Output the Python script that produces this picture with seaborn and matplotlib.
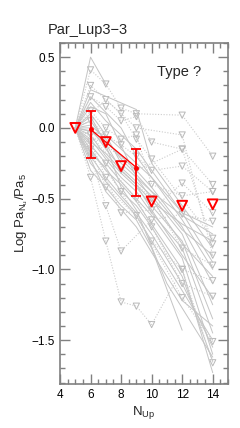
import numpy as np
import pandas as pd
import matplotlib
matplotlib.use("Agg")
import matplotlib.pyplot as plt
from matplotlib.ticker import MultipleLocator
import seaborn as sns

# ---- data ----
# gray measured ratios (solid lines), one list of x and y per source
SOLID = {
    "s01": ([5, 6, 7], [0, 0.50, 0.31]),
    "s02": ([5, 6, 9, 10, 12, 14], [0, 0.27, 0.13, -0.25, -0.55, -0.85]),
    "s03": ([5, 6, 7, 8, 9, 10, 12, 14], [0, 0.18, 0.05, -0.05, -0.15, -0.30, -0.60, -0.95]),
    "s04": ([5, 6, 7, 8, 9, 10, 12, 14], [0, 0.10, -0.05, -0.15, -0.25, -0.35, -0.65, -1.00]),
    "s05": ([5, 6, 7, 8, 9, 10, 12, 14], [0, 0.05, -0.10, -0.20, -0.30, -0.42, -0.70, -1.10]),
    "s06": ([5, 6, 7, 8, 9, 10, 12, 14], [0, 0.00, -0.15, -0.28, -0.38, -0.48, -0.75, -1.25]),
    "s07": ([5, 6, 7, 8, 9, 10, 12, 14], [0, -0.05, -0.20, -0.32, -0.42, -0.55, -0.80, -1.35]),
    "s08": ([5, 6, 7, 8, 9, 10, 12, 14], [0, -0.08, -0.22, -0.35, -0.45, -0.60, -0.85, -1.45]),
    "s09": ([5, 6, 7, 8, 9, 10, 12, 14], [0, -0.12, -0.25, -0.38, -0.50, -0.62, -0.92, -1.60]),
    "s10": ([5, 6, 7, 8, 9, 10, 12, 14], [0, -0.15, -0.30, -0.40, -0.52, -0.68, -1.00, -1.73]),
    "s11": ([5, 6, 7, 8, 9, 10, 12, 14], [0, -0.18, -0.28, -0.45, -0.55, -0.70, -1.05, -1.65]),
    "s12": ([5, 6, 7, 8, 9, 10, 12, 14], [0, -0.20, -0.35, -0.48, -0.60, -0.75, -1.10, -1.55]),
    "s13": ([5, 6, 7, 8, 9, 10, 12, 14], [0, -0.25, -0.38, -0.50, -0.62, -0.80, -1.15, -1.50]),
    "s14": ([5, 6, 7, 8, 9, 10, 12, 14], [0, -0.10, -0.18, -0.30, -0.40, -0.52, -0.68, -0.80]),
    "s15": ([5, 6, 7, 8, 9, 10, 12, 14], [0, 0.02, -0.08, -0.22, -0.33, -0.45, -0.62, -0.75]),
    "s16": ([5, 6, 7, 8, 9, 10, 12], [0, -0.30, -0.42, -0.55, -0.65, -0.85, -1.43]),
    "s17": ([5, 6, 8, 9, 10, 12, 14], [0, 0.22, 0.00, -0.20, -0.35, -0.60, -0.70]),
    "s18": ([5, 6, 7, 9, 10, 12, 14], [0, 0.15, 0.10, -0.35, -0.50, -0.82, -1.05]),
    "s19": ([5, 6, 7, 8, 9, 11, 14], [0, -0.02, -0.12, -0.42, -0.58, -1.10, -1.62]),
    "s20": ([5, 6, 8, 9, 10, 12, 14], [0, 0.08, -0.30, -0.40, -0.58, -0.90, -1.20]),
    "s21": ([5, 6, 7, 9, 10, 12, 14], [0, -0.22, -0.45, -0.70, -0.88, -1.22, -1.40]),
    "s22": ([5, 7, 8, 10, 12, 14], [0, -0.05, -0.25, -0.45, -0.72, -0.90]),
}

# gray upper limits (dotted lines with open triangles)
LIMITS = {
    "u01": ([5, 6, 7, 8, 9, 12, 14], [0, 0.41, 0.31, 0.14, 0.10, 0.09, -0.20]),
    "u02": ([5, 6, 7, 8, 9, 10, 12, 14], [0, 0.22, 0.15, 0.05, 0.08, -0.10, -0.15, -0.40]),
    "u03": ([5, 6, 7, 8, 9, 10, 12, 14], [0, 0.05, -0.05, -0.12, -0.20, -0.30, -0.27, -0.45]),
    "u04": ([5, 6, 7, 8, 10, 12, 14], [0, -0.10, -0.35, -0.60, -0.58, -0.39, -0.60]),
    "u05": ([5, 6, 7, 8, 9, 10, 12, 14], [0, -0.35, -0.80, -1.23, -1.26, -1.39, -1.00, -1.08]),
    "u06": ([5, 6, 7, 8, 10, 12, 14], [0, -0.20, -0.55, -0.87, -0.65, -0.61, -0.66]),
    "u07": ([5, 6, 7, 8, 9, 10, 12, 14], [0, 0.12, 0.00, -0.08, -0.05, -0.40, -0.48, -0.45]),
    "u08": ([5, 6, 8, 10, 12, 14], [0, -0.05, -0.30, -0.50, -0.85, -0.97]),
    "u09": ([5, 7, 9, 10, 12, 14], [0, -0.25, -0.50, -0.70, -1.10, -1.19]),
    "u10": ([5, 6, 7, 9, 12, 14], [0, -0.15, -0.42, -0.62, -1.20, -1.51]),
    "u11": ([5, 8, 10, 12, 14], [0, -0.45, -0.80, -1.00, -1.66]),
    "u12": ([5, 7, 9, 12, 14], [0, -0.12, -0.30, -0.15, -0.82]),
    "u13": ([5, 6, 9, 12, 14], [0, 0.30, 0.00, -0.05, -0.90]),
    "u14": ([5, 7, 8, 9, 10, 14], [0, 0.20, 0.10, -0.08, -0.22, -0.78]),
}

# Par_Lup3-3 itself
red_det_x = [6, 9]
red_det_y = [-0.01, -0.28]
red_det_lo = [0.20, 0.20]
red_det_hi = [0.13, 0.13]
red_line_x = [6, 7, 9]
red_line_y = [-0.01, -0.10, -0.28]
red_lim_x = [5, 7, 8, 10, 12, 14]
red_lim_y = [0.0, -0.10, -0.27, -0.52, -0.55, -0.54]


def to_long(series):
    rows = []
    for name, (xs, ys) in series.items():
        for x, y in zip(xs, ys):
            rows.append({"src": name, "nup": x, "ratio": y})
    return pd.DataFrame(rows)


def main():
    sns.set_style("ticks")
    plt.rcParams["font.family"] = ["Liberation Sans", "DejaVu Sans"]
    plt.rcParams["mathtext.fontset"] = "custom"
    plt.rcParams["mathtext.rm"] = "Liberation Sans"
    plt.rcParams["mathtext.it"] = "Liberation Sans"

    df_solid = to_long(SOLID)
    df_lim = to_long(LIMITS)
    df_lim_pts = df_lim[df_lim["nup"] > 5]

    fig = plt.figure(figsize=(2.4, 4.28), dpi=100)
    ax = fig.add_axes([0.25, 0.1028, 0.70, 0.7967])

    gray = "#c4c4c4"
    sns.lineplot(data=df_solid, x="nup", y="ratio", units="src", estimator=None,
                 color=gray, lw=0.7, ax=ax, sort=False)
    sns.lineplot(data=df_lim, x="nup", y="ratio", units="src", estimator=None,
                 color="#cccccc", lw=0.8, ls=(0, (1, 1.5)), ax=ax, sort=False)
    sns.scatterplot(data=df_lim_pts, x="nup", y="ratio", marker="v", s=20,
                    facecolor="none", edgecolor="#b8b8b8", linewidth=0.7, ax=ax)

    # red source
    sns.lineplot(x=red_line_x, y=red_line_y, color="red", lw=0.9, ax=ax, sort=False)
    ax.errorbar(red_det_x, red_det_y, yerr=[red_det_lo, red_det_hi], fmt="o",
                ms=2.5, color="red", ecolor="red", elinewidth=1.3,
                capsize=3.5, capthick=1.3, zorder=5)
    sns.scatterplot(x=red_lim_x, y=red_lim_y, marker="v", s=50,
                    facecolor="none", edgecolor="red", linewidth=1.4, ax=ax, zorder=6)

    ax.set_xlim(4, 15)
    ax.set_ylim(-1.81, 0.6)
    ax.xaxis.set_major_locator(MultipleLocator(2))
    ax.xaxis.set_minor_locator(MultipleLocator(0.5))
    ax.yaxis.set_major_locator(MultipleLocator(0.5))
    ax.yaxis.set_minor_locator(MultipleLocator(0.1))
    ax.set_xticks([4, 6, 8, 10, 12, 14])
    ax.tick_params(which="both", direction="in", top=True, right=True,
                   color="#808080", labelsize=8.5, labelcolor="black")
    ax.tick_params(which="major", length=7, width=1.0)
    ax.tick_params(which="minor", length=3.5, width=1.0)
    for sp in ax.spines.values():
        sp.set_color("#808080")
        sp.set_linewidth(1.2)

    ax.set_xlabel(r"N$_{\mathrm{Up}}$", fontsize=9.5, labelpad=2)
    ax.set_ylabel(r"Log Pa$_{\mathrm{N_u}}$/Pa$_{\mathrm{5}}$", fontsize=9.5, labelpad=1)
    ax.text(0.577, 0.903, "Type ?", transform=ax.transAxes, fontsize=10.5,
            va="baseline", ha="left")
    fig.text(48 / 240, 1 - 34 / 428, "Par_Lup3\u22123", fontsize=10.5, va="baseline",
             ha="left")

    fig.savefig("out.png", dpi=100)
    plt.close(fig)


if __name__ == "__main__":
    main()
